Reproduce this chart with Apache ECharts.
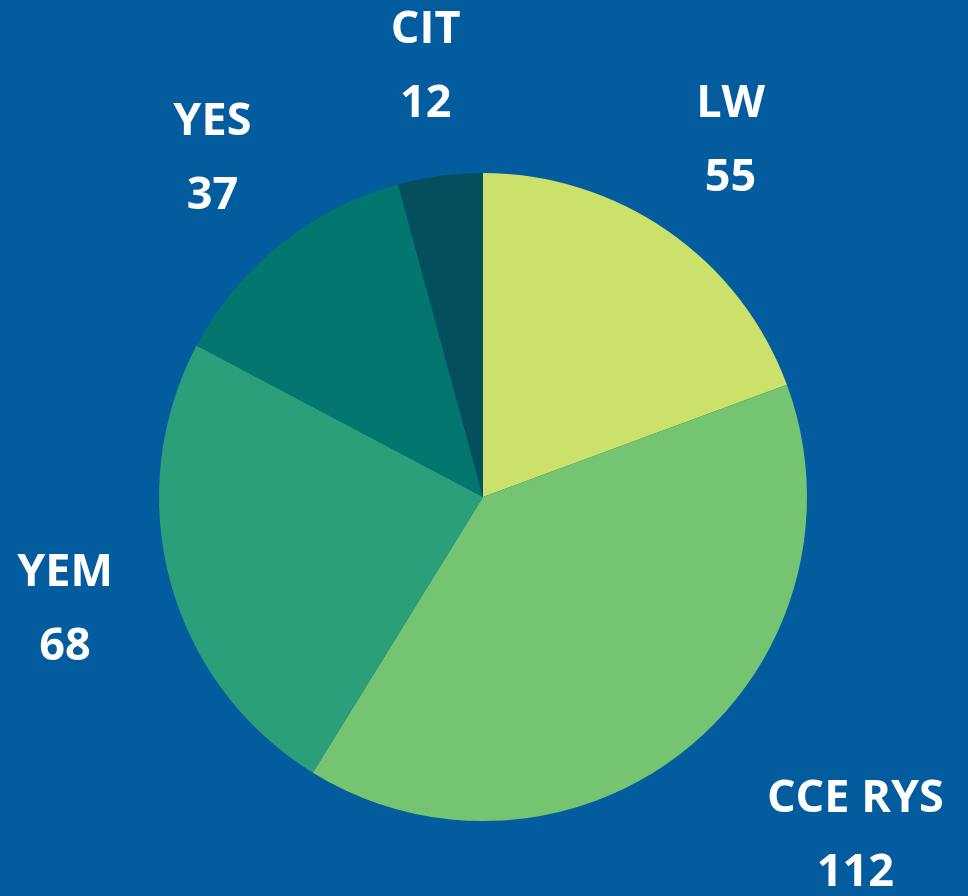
<!DOCTYPE html>
<html>
<head>
<meta charset="utf-8">
<style>
  html, body { margin: 0; padding: 0; background: #025c9e; }
  #main { width: 968px; height: 896px; }
</style>
<script src="https://cdn.jsdelivr.net/npm/echarts@6/dist/echarts.min.js"></script>
</head>
<body>
<div id="main"></div>
<script>
var myChart = echarts.init(document.getElementById('main'));

let names = ["LW", "CCE RYS", "YEM", "YES", "CIT"];
let values = [55, 112, 68, 37, 12];
let color = ["#cbe16a", "#74c471", "#2a9f79", "#03766f", "#034f5e"];

// label sits this far out, as a multiple of the radius
let labelFactor = 1.337;
// CCE RYS label is pushed to the right in the original
let labelNudge = { "CCE RYS": [98, 4] };

let pieData = names.map((n, i) => ({ name: n, value: values[i] }));

option = {
  backgroundColor: "#025c9e",
  color: color,
  series: [{
    type: "pie",
    center: [483, 497],
    radius: 324,
    startAngle: 90,
    clockwise: true,
    avoidLabelOverlap: false,
    itemStyle: { borderWidth: 0 },
    label: {
      show: true,
      position: "outside",
      formatter: "{b}\n{c}",
      color: "#ffffff",
      fontFamily: "Open Sans",
      fontWeight: "bold",
      fontSize: 45,
      lineHeight: 74,
      align: "center"
    },
    labelLine: { show: false },
    labelLayout: function(params) {
      let data = myChart.getModel().getSeriesByIndex(0).getData();
      let l = data.getItemLayout(params.dataIndex);
      let mid = (l.startAngle + l.endAngle) / 2;
      let rr = l.r * labelFactor;
      let nudge = labelNudge[names[params.dataIndex]] || [0, 0];
      return {
        x: l.cx + rr * Math.cos(mid) + nudge[0],
        y: l.cy + rr * Math.sin(mid) + nudge[1],
        align: "center",
        verticalAlign: "middle"
      };
    },
    emphasis: { disabled: true },
    data: pieData
  }]
};
myChart.setOption(option);
</script>
</body>
</html>
